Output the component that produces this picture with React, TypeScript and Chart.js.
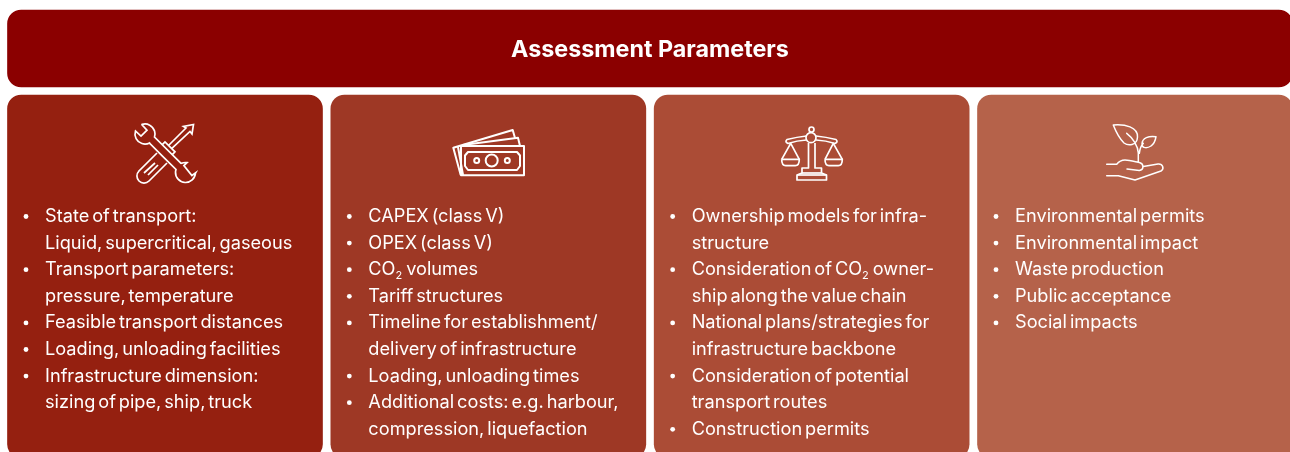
import React, { useEffect, useRef } from "react";
import { Chart, registerables } from "chart.js";

Chart.register(...registerables);

const titleText = "Assessment Parameters";
const headerRange: [number, number] = [10, 87];
const panelRange: [number, number] = [95, 458];
const panelIds = ["Technical", "Economic", "Policy", "Environmental"];
const panelColors = ["#952010", "#9E3825", "#AB4C36", "#B5624A"];
const headerColor = "#8B0000";

const technicalItems = [
  ["State of transport:", "Liquid, supercritical, gaseous"],
  ["Transport parameters:", "pressure, temperature"],
  ["Feasible transport distances"],
  ["Loading, unloading facilities"],
  ["Infrastructure dimension:", "sizing of pipe, ship, truck"],
];
const economicItems = [
  ["CAPEX (class V)"],
  ["OPEX (class V)"],
  ["CO₂ volumes"],
  ["Tariff structures"],
  ["Timeline for establishment/", "delivery of infrastructure"],
  ["Loading, unloading times"],
  ["Additional costs: e.g. harbour,", "compression, liquefaction"],
];
const policyItems = [
  ["Ownership models for infra-", "structure"],
  ["Consideration of CO₂ owner-", "ship along the value chain"],
  ["National plans/strategies for", "infrastructure backbone"],
  ["Consideration of potential", "transport routes"],
  ["Construction permits"],
];
const environmentalItems = [
  ["Environmental permits"],
  ["Environmental impact"],
  ["Waste production"],
  ["Public acceptance"],
  ["Social impacts"],
];
const panelItems = [technicalItems, economicItems, policyItems, environmentalItems];

const FONT_FAMILY = '"Inter", "Noto Sans", sans-serif';
const BODY_FONT = `400 18.2px ${FONT_FAMILY}`;
const SUB_FONT = `400 11px ${FONT_FAMILY}`;
const BODY_WORD_SPACING = "-2.2px";

type Ctx = CanvasRenderingContext2D;

function drawLine(ctx: Ctx, text: string, x: number, y: number) {
  const parts = text.split("₂");
  let cx = x;
  parts.forEach((part, i) => {
    ctx.font = BODY_FONT;
    ctx.fillText(part, cx, y);
    cx += ctx.measureText(part).width;
    if (i < parts.length - 1) {
      ctx.font = SUB_FONT;
      ctx.fillText("2", cx, y + 4);
      cx += ctx.measureText("2").width + 1;
    }
  });
}

function poly(ctx: Ctx, pts: number[][], close = false) {
  ctx.beginPath();
  pts.forEach((p, i) => (i ? ctx.lineTo(p[0], p[1]) : ctx.moveTo(p[0], p[1])));
  if (close) ctx.closePath();
  ctx.stroke();
}

const deg = (d: number) => (d * Math.PI) / 180;

function toolsIcon(ctx: Ctx) {
  ctx.save();
  ctx.lineWidth = 1.7;
  ctx.translate(165.5, 153.5);
  // wrench
  ctx.beginPath();
  ctx.moveTo(-2.8, 2.8);
  ctx.lineTo(-15.8, -10.2);
  ctx.arc(-20.5, -19.5, 10, deg(63), deg(198));
  ctx.lineTo(-24.5, -17.5);
  ctx.lineTo(-18.5, -23.3);
  ctx.lineTo(-23.5, -28.8);
  ctx.arc(-20.5, -19.5, 10, deg(-107), deg(18));
  ctx.lineTo(15.8, 10.2);
  ctx.arc(20, 19, 10, deg(244), deg(279));
  ctx.lineTo(18.4, 12);
  ctx.lineTo(26.4, 22);
  ctx.lineTo(30, 19.5);
  ctx.arc(20, 19, 10, deg(3), deg(198));
  ctx.closePath();
  ctx.stroke();
  ctx.restore();
  ctx.save();
  ctx.lineWidth = 1.7;
  // screwdriver handle
  ctx.beginPath();
  ctx.moveTo(157, 153);
  ctx.lineTo(139, 171);
  ctx.arc(144, 176, 7.07, deg(-135), deg(45), true);
  ctx.lineTo(167, 163);
  ctx.stroke();
  poly(ctx, [[144, 173], [155, 163]]);
  poly(ctx, [[148, 175], [158, 165]]);
  // collar and shaft
  poly(ctx, [[162.3, 144.7], [165, 142], [175, 151.8], [172.3, 154.7]]);
  poly(ctx, [[168.5, 145.5], [186, 128], [183.5, 126.5], [193.5, 124.5], [192, 134], [190, 131.5], [171.6, 148.6]]);
  ctx.restore();
}

function moneyIcon(ctx: Ctx) {
  ctx.save();
  ctx.lineWidth = 2;
  ctx.lineJoin = "round";
  poly(ctx, [[461, 146], [524, 146], [524, 175.3], [461, 175.3]], true);
  poly(ctx, [[468, 152], [517, 152], [520, 155.5], [520, 166], [517, 170], [468, 170], [465, 166], [465, 155.5]], true);
  for (const [x, r] of [[491.7, 6], [476.7, 2.5], [507.3, 2.5]]) {
    ctx.beginPath();
    ctx.arc(x, 160.5, r, 0, Math.PI * 2);
    ctx.stroke();
  }
  poly(ctx, [[460.7, 175], [453.3, 147.7], [512.7, 130], [515, 138]]);
  poly(ctx, [[463, 145], [518, 137.7], [520, 146]]);
  poly(ctx, [[458, 147], [463, 175]]);
  ctx.restore();
}

function scaleIcon(ctx: Ctx) {
  ctx.save();
  ctx.lineWidth = 1.7;
  ctx.lineJoin = "round";
  ctx.beginPath();
  ctx.arc(811.5, 129.5, 2.5, 0, Math.PI * 2);
  ctx.moveTo(816, 137.7);
  ctx.arc(811, 137.7, 5, 0, Math.PI * 2);
  ctx.stroke();
  ctx.beginPath();
  ctx.moveTo(806.5, 136);
  ctx.quadraticCurveTo(797, 137, 787, 139.5);
  ctx.quadraticCurveTo(784.5, 142, 788, 143.5);
  ctx.quadraticCurveTo(797, 140.5, 806.5, 140);
  ctx.moveTo(816, 136);
  ctx.quadraticCurveTo(826, 137, 836, 139.5);
  ctx.quadraticCurveTo(838.5, 142, 835, 143.5);
  ctx.quadraticCurveTo(826, 140.5, 816, 140);
  ctx.stroke();
  poly(ctx, [[808.5, 143], [808.5, 168], [802, 168], [802, 173], [797, 175], [797, 180], [826.5, 180], [826.5, 175], [821.5, 173], [821.5, 168], [815, 168], [815, 143]]);
  poly(ctx, [[797, 175], [826.5, 175]]);
  poly(ctx, [[802, 173], [821.5, 173]]);
  poly(ctx, [[781.7, 159.3], [790.7, 143.3], [799.3, 159.3]]);
  poly(ctx, [[825, 159.3], [833.3, 143.3], [842.3, 159.3]]);
  for (const [a, b] of [[781.7, 799.3], [825, 842.3]]) {
    ctx.beginPath();
    ctx.moveTo(a, 159.3);
    ctx.lineTo(b, 159.3);
    ctx.quadraticCurveTo(b, 165.7, b - 4, 165.7);
    ctx.lineTo(a + 4, 165.7);
    ctx.quadraticCurveTo(a, 165.7, a, 159.3);
    ctx.stroke();
  }
  ctx.restore();
}

function plantIcon(ctx: Ctx) {
  ctx.save();
  ctx.lineWidth = 1.5;
  ctx.lineCap = "round";
  ctx.lineJoin = "round";
  ctx.beginPath();
  ctx.moveTo(1113.3, 125);
  ctx.bezierCurveTo(1125, 124, 1138, 127, 1137.5, 137);
  ctx.bezierCurveTo(1137, 146, 1128, 146, 1124, 143);
  ctx.bezierCurveTo(1120, 139, 1116, 132, 1113.3, 125);
  ctx.moveTo(1126.7, 133.3);
  ctx.bezierCurveTo(1133, 138, 1138, 146, 1138.3, 153);
  ctx.lineTo(1138.3, 161.7);
  ctx.moveTo(1139.3, 153.3);
  ctx.quadraticCurveTo(1140, 147, 1143.3, 143.3);
  ctx.moveTo(1156, 136.7);
  ctx.bezierCurveTo(1149, 135.5, 1142, 138, 1142, 144);
  ctx.bezierCurveTo(1142, 149, 1148, 148, 1151, 146);
  ctx.bezierCurveTo(1154, 144, 1155.5, 140, 1156, 136.7);
  ctx.moveTo(1106.7, 164.3);
  ctx.lineTo(1116.7, 164.3);
  ctx.quadraticCurveTo(1120, 160, 1125, 160);
  ctx.bezierCurveTo(1130, 160, 1136, 162, 1140, 162.7);
  ctx.bezierCurveTo(1144, 164, 1144, 170, 1139.3, 170.5);
  ctx.lineTo(1127, 169);
  ctx.moveTo(1143.3, 166.5);
  ctx.lineTo(1158, 164);
  ctx.bezierCurveTo(1163, 163.5, 1164.5, 169, 1161, 171);
  ctx.lineTo(1135, 180);
  ctx.lineTo(1118.3, 175.7);
  ctx.lineTo(1106.7, 175.7);
  ctx.stroke();
  ctx.restore();
}

const icons = [toolsIcon, moneyIcon, scaleIcon, plantIcon];
const iconRefCenters = [165, 488.33, 811.67, 1135];

const infographicPlugin = {
  id: "infographic",
  afterDatasetsDraw(chart: any) {
    const ctx: Ctx = chart.ctx;
    const xScale = chart.scales.x;
    const headerScale = chart.scales.xHeader;
    ctx.save();
    ctx.fillStyle = "#ffffff";
    ctx.strokeStyle = "#ffffff";
    ctx.textBaseline = "alphabetic";

    ctx.textAlign = "center";
    ctx.font = `700 23.3px ${FONT_FAMILY}`;
    ctx.fillText(titleText, headerScale.getPixelForValue(0), 57);

    ctx.textAlign = "left";
    (ctx as any).wordSpacing = BODY_WORD_SPACING;
    panelItems.forEach((items, p) => {
      const center = xScale.getPixelForValue(p);
      let row = 0;
      items.forEach((lines) => {
        ctx.beginPath();
        ctx.arc(center - 139, 216.5 + row * 26.6, 2.4, 0, Math.PI * 2);
        ctx.fill();
        lines.forEach((line) => {
          drawLine(ctx, line, center - 120, 222 + row * 26.6);
          row += 1;
        });
      });
      ctx.save();
      ctx.translate(center - iconRefCenters[p], 0);
      icons[p](ctx);
      ctx.restore();
    });
    ctx.restore();
  },
};

export default function App() {
  const ref = useRef<HTMLCanvasElement>(null);
  useEffect(() => {
    const chart = new Chart(ref.current as HTMLCanvasElement, {
      type: "bar",
      data: {
        labels: panelIds,
        datasets: [
          {
            label: "Panels",
            data: panelIds.map(() => panelRange),
            backgroundColor: panelColors,
            barThickness: 315,
            grouped: false,
            borderRadius: 14,
            borderSkipped: false,
            xAxisID: "x",
            yAxisID: "y",
          },
          {
            label: titleText,
            data: [headerRange],
            backgroundColor: headerColor,
            barThickness: 1285,
            grouped: false,
            borderRadius: 14,
            borderSkipped: false,
            xAxisID: "xHeader",
            yAxisID: "y",
          },
        ],
      } as any,
      options: {
        animation: false,
        responsive: false,
        devicePixelRatio: 1,
        layout: { padding: { left: 3.33, right: 3.33, top: 0, bottom: 0 } },
        plugins: { legend: { display: false }, tooltip: { enabled: false }, title: { display: false } },
        scales: {
          x: { type: "category", display: false, offset: true, grid: { display: false } },
          xHeader: { type: "category", labels: [titleText], display: false, offset: true, grid: { display: false } },
          y: { type: "linear", display: false, reverse: true, min: 0, max: 452, grid: { display: false } },
        },
      } as any,
      plugins: [infographicPlugin],
    });
    return () => chart.destroy();
  }, []);
  return (
    <div style={{ position: "fixed", left: 0, top: 0, width: 1290, height: 452, overflow: "hidden", background: "#fff" }}>
      <canvas ref={ref} width={1300} height={452} style={{ display: "block" }} />
    </div>
  );
}
